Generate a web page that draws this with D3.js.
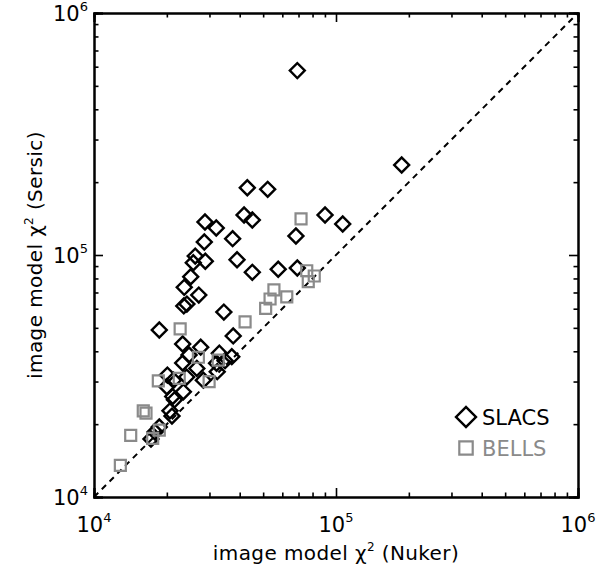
<!DOCTYPE html>
<html>
<head>
<meta charset="utf-8">
<script src="https://cdn.jsdelivr.net/npm/d3@7"></script>
<style>
  body { margin: 0; background: #fff; }
  svg text { font-family: "DejaVu Sans", sans-serif; }
</style>
</head>
<body>
<div id="chart"></div>
<script>
// SLACS lenses: chi^2 for Nuker (x) and Sersic (y) image models
const slacsNuker = [69200, 186800, 43000, 52200, 90100, 106600, 28750, 32000, 41700, 45100,
  37400, 68300, 28560, 26200, 25720, 28840, 39000, 45100, 57700, 69200,
  25100, 23600, 27100, 24200, 23500, 34400, 18610, 37600, 23250, 27600,
  24700, 32950, 34800, 37100, 23250, 26600, 32100, 32300, 20100, 21300,
  24150, 28300, 20000, 23400, 21150, 21500, 20600, 21000, 18610, 17870, 17200];
const slacsSersic = [578000, 235500, 189700, 186800, 146300, 134300, 136900, 129300, 146300, 139500,
  116800, 119800, 113200, 99000, 92900, 94200, 95600, 84800, 87300, 88400,
  81300, 73500, 68300, 62700, 61600, 58100, 49000, 46300, 42900, 41600,
  38600, 39300, 36600, 38000, 35800, 34000, 35700, 32950, 31900, 30400,
  31300, 30400, 28560, 27200, 26000, 25200, 22700, 21600, 19470, 18560, 17360];

// BELLS lenses
const bellsNuker = [71700, 55400, 53400, 51200, 62600, 75700, 81300, 76800, 42100, 22700,
  27000, 32600, 22500, 18440, 29900, 15980, 16400, 14180, 12850, 18610, 17480];
const bellsSersic = [140900, 71700, 65800, 60200, 67100, 86100, 81900, 77600, 52900, 49500,
  37800, 36800, 30900, 30200, 29950, 22700, 22200, 17960, 13520, 18910, 17480];

const axisDomain = [1e4, 1e6];
const legendNames = ['SLACS', 'BELLS'];

const width = 603, height = 567;
const margin = { top: 13, right: 25, bottom: 70, left: 94 };
const plotW = width - margin.left - margin.right;
const plotH = height - margin.top - margin.bottom;
const grey = '#8a8a8a';

const svg = d3.select('#chart')
  .append('svg')
  .attr('width', width)
  .attr('height', height);

const g = svg.append('g')
  .attr('transform', `translate(${margin.left},${margin.top})`);

const x = d3.scaleLog().domain(axisDomain).range([0, plotW]);
const y = d3.scaleLog().domain(axisDomain).range([plotH, 0]);

const isMajor = v => Math.abs(Math.log10(v) - Math.round(Math.log10(v))) < 1e-9;
const majorX = x.ticks().filter(isMajor);
const minorX = x.ticks().filter(v => !isMajor(v));
const majorY = y.ticks().filter(isMajor);
const minorY = y.ticks().filter(v => !isMajor(v));

// ticks on all four sides, pointing inward
function tickAxis(axisFn, scale, values, size) {
  return axisFn(scale).tickValues(values).tickSize(size).tickFormat('');
}

const frame = g.append('g').attr('class', 'frame');
frame.append('g').attr('transform', `translate(0,${plotH})`).call(tickAxis(d3.axisBottom, x, majorX, -9));
frame.append('g').attr('transform', `translate(0,${plotH})`).call(tickAxis(d3.axisBottom, x, minorX, -4.5));
frame.append('g').call(tickAxis(d3.axisTop, x, majorX, -9));
frame.append('g').call(tickAxis(d3.axisTop, x, minorX, -4.5));
frame.append('g').call(tickAxis(d3.axisLeft, y, majorY, -9));
frame.append('g').call(tickAxis(d3.axisLeft, y, minorY, -4.5));
frame.append('g').attr('transform', `translate(${plotW},0)`).call(tickAxis(d3.axisRight, y, majorY, -9));
frame.append('g').attr('transform', `translate(${plotW},0)`).call(tickAxis(d3.axisRight, y, minorY, -4.5));
frame.selectAll('path.domain').attr('stroke', '#000').attr('stroke-width', 2);
frame.selectAll('.tick line').attr('stroke', '#000').attr('stroke-width', 1.6);

// tick labels as 10^n
function powerLabel(sel, v) {
  sel.append('tspan').text('10');
  sel.append('tspan').attr('dy', -10).attr('font-size', 13).text(Math.round(Math.log10(v)));
}

g.selectAll('.xlabel')
  .data(majorX)
  .enter()
  .append('text')
  .attr('class', 'xlabel')
  .attr('x', d => x(d))
  .attr('y', plotH + 35)
  .attr('text-anchor', 'middle')
  .attr('font-size', 21)
  .each(function(d) { powerLabel(d3.select(this), d); });

g.selectAll('.ylabel')
  .data(majorY)
  .enter()
  .append('text')
  .attr('class', 'ylabel')
  .attr('x', -6)
  .attr('y', d => y(d) + 8)
  .attr('text-anchor', 'end')
  .attr('font-size', 21)
  .each(function(d) { powerLabel(d3.select(this), d); });

// axis titles
const xTitle = g.append('text')
  .attr('x', plotW / 2)
  .attr('y', plotH + 63)
  .attr('text-anchor', 'middle')
  .attr('font-size', 20)
  .attr('letter-spacing', 0.4);
xTitle.append('tspan').text('image model \u03c7');
xTitle.append('tspan').attr('dy', -9).attr('font-size', 12).text('2');
xTitle.append('tspan').attr('dy', 9).text(' (Nuker)');

const yTitle = g.append('text')
  .attr('transform', `translate(${-52},${plotH / 2}) rotate(-90)`)
  .attr('text-anchor', 'middle')
  .attr('font-size', 20)
  .attr('letter-spacing', 0.4);
yTitle.append('tspan').text('image model \u03c7');
yTitle.append('tspan').attr('dy', -9).attr('font-size', 12).text('2');
yTitle.append('tspan').attr('dy', 9).text(' (Sersic)');

// one-to-one line
g.append('line')
  .attr('x1', x(axisDomain[0])).attr('y1', y(axisDomain[0]))
  .attr('x2', x(axisDomain[1])).attr('y2', y(axisDomain[1]))
  .attr('stroke', '#000')
  .attr('stroke-width', 2)
  .attr('stroke-dasharray', '6,5');

const diamond = d3.symbol().type(d3.symbolSquare).size(112);
const square = d3.symbol().type(d3.symbolSquare).size(121);

g.selectAll('.slacs')
  .data(d3.range(slacsNuker.length))
  .enter()
  .append('path')
  .attr('class', 'slacs')
  .attr('d', diamond)
  .attr('transform', i => `translate(${x(slacsNuker[i])},${y(slacsSersic[i])}) rotate(45)`)
  .attr('fill', 'none')
  .attr('stroke', '#000')
  .attr('stroke-width', 2.4);

g.selectAll('.bells')
  .data(d3.range(bellsNuker.length))
  .enter()
  .append('path')
  .attr('class', 'bells')
  .attr('d', square)
  .attr('transform', i => `translate(${x(bellsNuker[i])},${y(bellsSersic[i])})`)
  .attr('fill', 'none')
  .attr('stroke', grey)
  .attr('stroke-width', 2.2);

// legend
const legend = g.append('g').attr('transform', `translate(${372},${404})`);
legend.append('path')
  .attr('d', d3.symbol().type(d3.symbolSquare).size(200))
  .attr('transform', 'rotate(45)')
  .attr('fill', 'none')
  .attr('stroke', '#000')
  .attr('stroke-width', 2.4);
legend.append('text')
  .attr('x', 16).attr('y', 8)
  .attr('font-size', 21)
  .attr('fill', '#000')
  .text(legendNames[0]);
legend.append('path')
  .attr('d', d3.symbol().type(d3.symbolSquare).size(180))
  .attr('transform', 'translate(0,31)')
  .attr('fill', 'none')
  .attr('stroke', grey)
  .attr('stroke-width', 2.2);
legend.append('text')
  .attr('x', 16).attr('y', 39)
  .attr('font-size', 21)
  .attr('fill', grey)
  .text(legendNames[1]);
</script>
</body>
</html>
